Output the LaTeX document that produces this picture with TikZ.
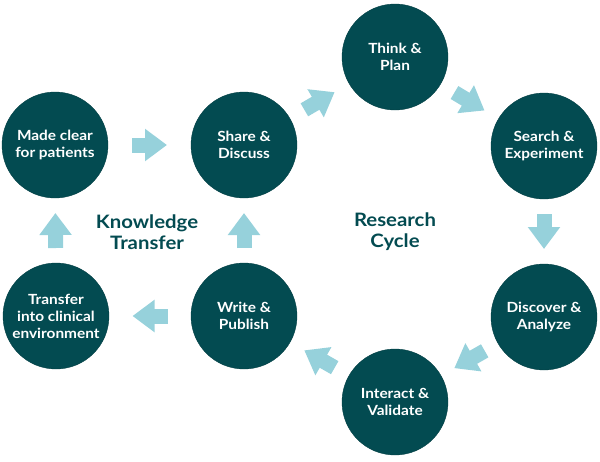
\documentclass[tikz,border=0pt]{standalone}
\usepackage{fontspec}
\setmainfont{Lato}[FakeStretch=1.1]
\usetikzlibrary{arrows.meta, calc}
\definecolor{deepteal}{RGB}{3,75,81}
\definecolor{paleblue}{RGB}{150,209,219}

\begin{document}
\begin{tikzpicture}[
    x=1pt, y=-1pt,
    stage/.style={circle, fill=deepteal, draw=deepteal!85!black,
                  minimum size=106pt, inner sep=0pt, align=center,
                  text=white, font=\fontsize{14}{17}\selectfont\bfseries},
    hdr/.style={align=center, text=deepteal,
                font=\fontsize{18.5}{21}\selectfont\bfseries},
    flow/.style={paleblue, line width=15pt,
                 -{Triangle[length=22pt, width=31pt]}}
  ]
    \useasboundingbox (0,0) rectangle (600,461);

    %% Knowledge transfer loop ─────────────────
    \node[stage] (mc) at (55,145)  {Made clear\\for patients};
    \node[stage] (sd) at (244,145) {Share \&\\Discuss};
    \node[stage] (wp) at (244,316) {Write \&\\Publish};
    \node[stage] (tc) at (56,316)  {Transfer\\into clinical\\environment};
    \node[hdr] (kt) at (147,232) {Knowledge\\Transfer};

    %% Research cycle ──────────────────────────
    \node[stage] (tp) at (395,57)  {Think \&\\Plan};
    \node[stage] (se) at (544,146) {Search \&\\Experiment};
    \node[stage] (da) at (544,317) {Discover \&\\Analyze};
    \node[stage] (iv) at (395,402) {Interact \&\\Validate};
    \node[hdr] (rc) at (395,232) {Research\\Cycle};

    %% Block arrows, centred in each gap ───────
    \draw[flow] ($(mc)!.5!(sd)!17.5pt!(mc)$) -- ($(mc)!.5!(sd)!17.5pt!(sd)$);
    \draw[flow] ($(sd)!.5!(tp)!17.5pt!(sd)$) -- ($(sd)!.5!(tp)!17.5pt!(tp)$);
    \draw[flow] ($(tp)!.5!(se)!17.5pt!(tp)$) -- ($(tp)!.5!(se)!17.5pt!(se)$);
    \draw[flow] ($(se)!.5!(da)!17.5pt!(se)$) -- ($(se)!.5!(da)!17.5pt!(da)$);
    \draw[flow] ($(da)!.5!(iv)!17.5pt!(da)$) -- ($(da)!.5!(iv)!17.5pt!(iv)$);
    \draw[flow] ($(iv)!.5!(wp)!17.5pt!(iv)$) -- ($(iv)!.5!(wp)!17.5pt!(wp)$);
    \draw[flow] ($(wp)!.5!(tc)!17.5pt!(wp)$) -- ($(wp)!.5!(tc)!17.5pt!(tc)$);
    \draw[flow] ($(tc)!.5!(mc)!17.5pt!(tc)$) -- ($(tc)!.5!(mc)!17.5pt!(mc)$);
    \draw[flow] ($(wp)!.5!(sd)!17.5pt!(wp)$) -- ($(wp)!.5!(sd)!17.5pt!(sd)$);

\end{tikzpicture}
\end{document}
